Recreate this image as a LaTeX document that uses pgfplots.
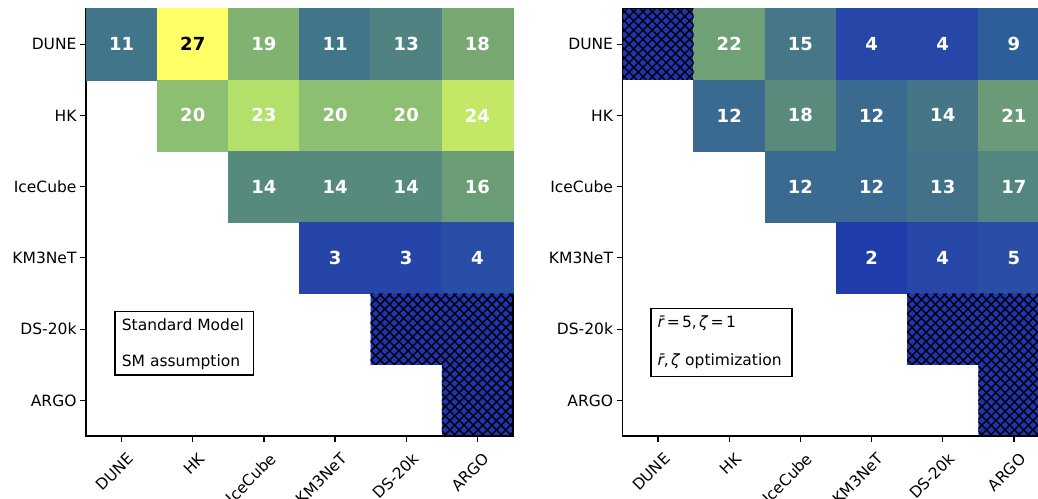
\documentclass[border=0pt]{standalone}
\usepackage{fontspec}
\setmainfont{DejaVu Sans}
\usepackage{pgfplots}
\pgfplotsset{compat=1.18}
\usepackage{pgfplotstable}

\definecolor{hatchblue}{RGB}{31,52,178}
\newcommand{\tickfont}{\fontsize{15.5bp}{18bp}\selectfont}
\newcommand{\cellfont}{\fontsize{18bp}{21bp}\selectfont\bfseries}

% x = column (0 DUNE ... 5 ARGO), y = row, v = value
\pgfplotstableread{
x y v
0 0 11
1 0 27
2 0 19
3 0 11
4 0 13
5 0 18
1 1 20
2 1 23
3 1 20
4 1 20
5 1 24
2 2 14
3 2 14
4 2 14
5 2 16
3 3 3
4 3 3
5 3 4
}\leftdata

\pgfplotstableread{
x y v
1 0 22
2 0 15
3 0 4
4 0 4
5 0 9
1 1 12
2 1 18
3 1 12
4 1 14
5 1 21
2 2 12
3 2 12
4 2 13
5 2 17
3 3 2
4 3 4
5 3 5
}\rightdata

\pgfplotsset{
  colormap={leftmap}{rgb255(3pt)=(37,70,168) rgb255(4pt)=(40,78,168) rgb255(11pt)=(65,117,137) rgb255(13pt)=(80,130,130) rgb255(14pt)=(86,138,124) rgb255(16pt)=(106,156,118) rgb255(18pt)=(120,168,114) rgb255(19pt)=(130,178,112) rgb255(20pt)=(141,191,114) rgb255(23pt)=(179,224,106) rgb255(24pt)=(194,232,102) rgb255(27pt)=(255,255,102)},
  colormap={rightmap}{rgb255(2pt)=(32,60,170) rgb255(4pt)=(38,70,168) rgb255(5pt)=(42,78,166) rgb255(9pt)=(46,94,154) rgb255(12pt)=(59,106,144) rgb255(13pt)=(66,114,138) rgb255(14pt)=(68,118,136) rgb255(15pt)=(70,119,136) rgb255(17pt)=(83,134,128) rgb255(18pt)=(90,138,124) rgb255(21pt)=(106,154,120) rgb255(22pt)=(111,160,118)},
  myhm/.style={
    scale only axis, width=427bp, height=427.5bp,
    anchor=south west,
    xmin=-0.5, xmax=5.5, ymin=-0.5, ymax=5.5, y dir=reverse,
    xtick={0,...,5}, ytick={0,...,5},
    xticklabels={DUNE,HK,IceCube,KM3NeT,DS-20k,ARGO},
    yticklabels={DUNE,HK,IceCube,KM3NeT,DS-20k,ARGO},
    tick align=outside, tick pos=left, major tick length=6bp,
    every tick/.style={black, line width=1.2bp},
    axis line style={black, line width=1.2bp},
    ticklabel style={font=\tickfont},
    xticklabel style={rotate=45, anchor=north east, yshift=-7bp},
    axis on top,
  },
  mycells/.style={scatter, only marks, mark=square*, mark size=35.63bp,
    scatter/use mapped color={draw=mapped color, fill=mapped color},
    mark options={line width=0.3bp}},
  mylabels/.style={only marks, mark=none,
    nodes near coords={\ifnum\pgfplotspointmeta>26 \color{black}\else\color{white}\fi\pgfplotspointmeta},
    every node near coord/.append style={anchor=center, font=\cellfont, inner sep=0pt}},
  myhatch/.style={draw=none, fill=hatchblue, point meta=none, mark=none},
}

% cross-hatch lines (decoration) clipped to a region
\newcommand{\hatchlines}[3]{%
  \begin{scope}
    \clip #1;
    \foreach \k in {0,...,36}{
      \draw[black, line width=1.4bp] ([xshift=\k*9.3bp-150bp]#2) -- ++(320bp,320bp);
      \draw[black, line width=1.4bp] ([xshift=\k*9.3bp-150bp]#3) -- ++(320bp,-320bp);
    }
  \end{scope}}

\begin{document}
\begin{tikzpicture}
\begin{axis}[myhm, at={(86bp,63bp)}, colormap name=leftmap, point meta min=3, point meta max=27]
  \addplot[mycells, point meta=explicit] table[x=x, y=y, meta=v] {\leftdata};
  \addplot[myhatch] coordinates {(3.5,3.5) (5.5,3.5) (5.5,5.5) (4.5,5.5) (4.5,4.5) (3.5,4.5)} -- cycle;
  \addplot[mylabels, point meta=explicit symbolic] table[x=x, y=y, meta=v] {\leftdata};
  \coordinate (La) at (axis cs:3.5,3.5);
  \coordinate (Lb) at (axis cs:5.5,3.5);
  \coordinate (Lc) at (axis cs:5.5,5.5);
  \coordinate (Ld) at (axis cs:4.5,5.5);
  \coordinate (Le) at (axis cs:4.5,4.5);
  \coordinate (Lf) at (axis cs:3.5,4.5);
  \coordinate (Lg) at (axis cs:3.5,5.5);
  \draw[black, line width=1.2bp, fill=white] (axis description cs:0.068,0.1425) rectangle (axis description cs:0.393,0.292);
  \node[anchor=base west, font=\tickfont, inner sep=0pt] at (axis description cs:0.0836,0.246) {Standard Model};
  \node[anchor=base west, font=\tickfont, inner sep=0pt] at (axis description cs:0.0836,0.1636) {SM assumption};
\end{axis}
\hatchlines{(La) -- (Lb) -- (Lc) -- (Ld) -- (Le) -- (Lf) -- cycle}{Lg}{La}
\begin{axis}[myhm, at={(622.5bp,63bp)}, colormap name=rightmap, point meta min=2, point meta max=22]
  \addplot[mycells, point meta=explicit] table[x=x, y=y, meta=v] {\rightdata};
  \addplot[myhatch] coordinates {(-0.5,-0.5) (0.5,-0.5) (0.5,0.5) (-0.5,0.5)} -- cycle;
  \addplot[myhatch] coordinates {(3.5,3.5) (5.5,3.5) (5.5,5.5) (4.5,5.5) (4.5,4.5) (3.5,4.5)} -- cycle;
  \addplot[mylabels, point meta=explicit symbolic] table[x=x, y=y, meta=v] {\rightdata};
  \coordinate (Ra) at (axis cs:3.5,3.5);
  \coordinate (Rb) at (axis cs:5.5,3.5);
  \coordinate (Rc) at (axis cs:5.5,5.5);
  \coordinate (Rd) at (axis cs:4.5,5.5);
  \coordinate (Re) at (axis cs:4.5,4.5);
  \coordinate (Rf) at (axis cs:3.5,4.5);
  \coordinate (Rg) at (axis cs:3.5,5.5);
  \coordinate (Qa) at (axis cs:-0.5,-0.5);
  \coordinate (Qb) at (axis cs:0.5,-0.5);
  \coordinate (Qc) at (axis cs:0.5,0.5);
  \coordinate (Qd) at (axis cs:-0.5,0.5);
  \draw[black, line width=1.2bp, fill=white] (axis description cs:0.0667,0.140) rectangle (axis description cs:0.397,0.299);
  \node[anchor=base west, font=\tickfont, inner sep=0pt] at (axis description cs:0.0815,0.253) {\textit{\=r}\hspace{0.15em}=\hspace{0.15em}5,\hspace{0.15em}\textit{ζ}\hspace{0.15em}=\hspace{0.15em}1};
  \node[anchor=base west, font=\tickfont, inner sep=0pt] at (axis description cs:0.0815,0.166) {\textit{\=r},\hspace{0.15em}\textit{ζ} optimization};
\end{axis}
\hatchlines{(Ra) -- (Rb) -- (Rc) -- (Rd) -- (Re) -- (Rf) -- cycle}{Rg}{Ra}
\hatchlines{(Qa) -- (Qb) -- (Qc) -- (Qd) -- cycle}{Qd}{Qa}
\pgfresetboundingbox
\path[use as bounding box] (0,0) rectangle (1038bp,499bp);
\end{tikzpicture}
\end{document}
